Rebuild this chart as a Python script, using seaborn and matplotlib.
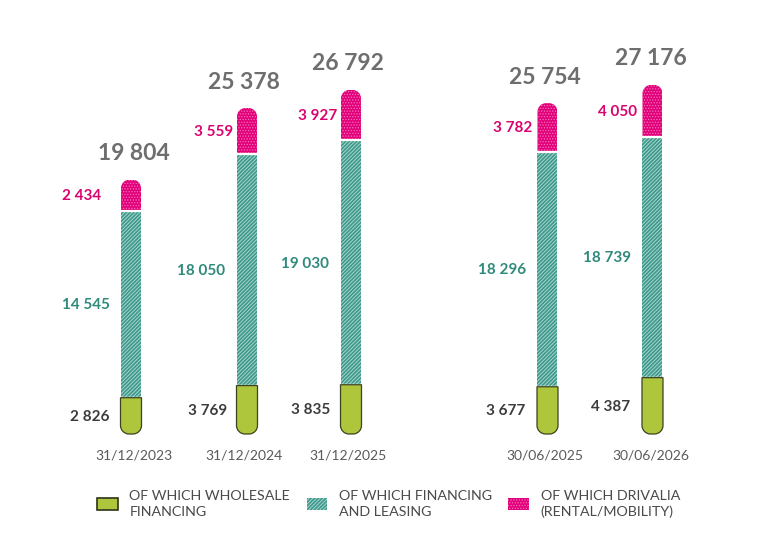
import numpy as np
import pandas as pd
import matplotlib
matplotlib.use("Agg")
import matplotlib.pyplot as plt
import seaborn as sns
from matplotlib.patches import Patch, PathPatch
from matplotlib.path import Path

# values
dates = ["31/12/2023", "31/12/2024", "31/12/2025", "30/06/2025", "30/06/2026"]
wholesale = [2826, 3769, 3835, 3677, 4387]
financing = [14545, 18050, 19030, 18296, 18739]
drivalia = [2434, 3559, 3927, 3782, 4050]
totals = [19804, 25378, 26792, 25754, 27176]

legend_labels = ["OF WHICH WHOLESALE\nFINANCING", "OF WHICH FINANCING\nAND LEASING", "OF WHICH DRIVALIA\n(RENTAL/MOBILITY)"]

# layout, in pixels of the 778x540 picture
bar_x = [131, 247, 351, 547.5, 652.5]
bar_w = 20
total_dx = [3, -3, -3, -3, -2]
wholesale_gap = [11, 10, 11, 12, 12]
financing_gap = [11, 12, 12, 11.5, 11.5]
drivalia_gap = [20, 4, 4, 5, 5]

GREEN = "#aec63b"
TEAL = "#3f9a8c"
TEAL_LINE = "#b4dcd5"
PINK = "#e2007a"
PINK_DOT = "#f571b8"
PINK_TEXT = "#d9046f"

sns.set_theme(style="white")
plt.rcParams["font.family"] = ["Lato", "DejaVu Sans"]
plt.rcParams["hatch.linewidth"] = 0.6

px_per_unit = 326 / 25378
base_px = 434

fig = plt.figure(figsize=(7.78, 5.4), dpi=100)
ax = fig.add_axes([0, (540 - base_px) / 540, 1, base_px / 540])

df = pd.DataFrame({"date": dates, "x": bar_x, "wholesale": wholesale, "financing": financing, "drivalia": drivalia})
df["c1"] = df["wholesale"]
df["c2"] = df["c1"] + df["financing"]
df["c3"] = df["c2"] + df["drivalia"]

rel_w = bar_w / np.diff(sorted(bar_x)).min()
sns.barplot(data=df, x="x", y="c3", native_scale=True, width=rel_w, ax=ax, color="white", saturation=1,
            hatch="......", edgecolor=PINK_DOT, facecolor=PINK, linewidth=0)
sns.barplot(data=df, x="x", y="c2", native_scale=True, width=rel_w, ax=ax, color="white", saturation=1,
            hatch="/////////", edgecolor=TEAL_LINE, facecolor=TEAL, linewidth=0)
ax.set_xlim(0, 778)
ax.set_ylim(0, base_px / px_per_unit)


def rounded(x0, x1, y0, y1, radius, top):
    # bar outline with the corners of one end rounded
    k = 0.45
    rx = radius
    ry = radius / px_per_unit
    if top:
        verts = [(x0, y0), (x0, y1 - ry), (x0, y1 - ry * k), (x0 + rx * k, y1), (x0 + rx, y1),
                 (x1 - rx, y1), (x1 - rx * k, y1), (x1, y1 - ry * k), (x1, y1 - ry), (x1, y0), (x0, y0)]
    else:
        verts = [(x0, y1), (x0, y0 + ry), (x0, y0 + ry * k), (x0 + rx * k, y0), (x0 + rx, y0),
                 (x1 - rx, y0), (x1 - rx * k, y0), (x1, y0 + ry * k), (x1, y0 + ry), (x1, y1), (x0, y1)]
    codes = [Path.MOVETO, Path.LINETO, Path.CURVE4, Path.CURVE4, Path.CURVE4,
             Path.LINETO, Path.CURVE4, Path.CURVE4, Path.CURVE4, Path.LINETO, Path.CLOSEPOLY]
    return Path(verts, codes)


# round the top of the stack
for bar, x, top in zip(ax.containers[0], bar_x, df["c3"]):
    bar.set_clip_path(rounded(x - bar_w / 2, x + bar_w / 2, 0, top, 8.5, True), ax.transData)

# the teal bars only start above the wholesale segment
for bar, c1, c2 in zip(ax.containers[1], df["c1"], df["c2"]):
    bar.set_y(c1)
    bar.set_height(c2 - c1)
for bar, c2, c3 in zip(ax.containers[0], df["c2"], df["c3"]):
    bar.set_y(c2)
    bar.set_height(c3 - c2)

# wholesale segment, outlined and rounded at the bottom
for x, top in zip(bar_x, df["c1"]):
    ax.add_patch(PathPatch(rounded(x - bar_w / 2 - 0.5, x + bar_w / 2 + 0.5, 0, top, 8.5, False),
                           facecolor=GREEN, edgecolor="#3d4220", linewidth=0.9, zorder=4, clip_on=False))

# white gaps between the segments
for x, c1, c2 in zip(bar_x, df["c1"], df["c2"]):
    ax.plot([x - bar_w / 2, x + bar_w / 2], [c2, c2], color="white", lw=1.6, zorder=3, solid_capstyle="butt")
    ax.plot([x - bar_w / 2, x + bar_w / 2], [c1 + 70, c1 + 70], color="white", lw=1.0, zorder=3, solid_capstyle="butt")


def fmt(v):
    return f"{v:,}".replace(",", " ")


for i, x in enumerate(bar_x):
    left = x - bar_w / 2
    c1, c2, c3 = df.loc[i, ["c1", "c2", "c3"]]
    ax.text(left - wholesale_gap[i], c1 / 2 - 1 / px_per_unit, fmt(wholesale[i]), ha="right", va="center", fontsize=11, fontweight="bold", color="#3c3c3c")
    ax.text(left - financing_gap[i], (c1 + c2) / 2 - 1 / px_per_unit, fmt(financing[i]), ha="right", va="center", fontsize=11, fontweight="bold", color="#2f8a7b")
    ax.text(left - drivalia_gap[i], (c2 + c3) / 2 - 1 / px_per_unit, fmt(drivalia[i]), ha="right", va="center", fontsize=11, fontweight="bold", color=PINK_TEXT)
    ax.text(x + total_dx[i], totals[i] + 26 / px_per_unit, fmt(totals[i]), ha="center", va="center", fontsize=16.5, fontweight="bold", color="#6e6e6e")

ax.set_xticks([x + d for x, d in zip(bar_x, total_dx)])
ax.set_xticklabels(dates, fontsize=10, color="#5a5a5a")
ax.tick_params(axis="x", length=0, pad=11)
ax.set_xlabel("")
ax.set_ylabel("")
ax.set_yticks([])
sns.despine(ax=ax, left=True, bottom=True)
ax.patch.set_alpha(0)

handles = [
    Patch(facecolor=GREEN, edgecolor="#2f3318", linewidth=1.2),
    Patch(facecolor=TEAL, edgecolor=TEAL_LINE, hatch="/////////", linewidth=0),
    Patch(facecolor=PINK, edgecolor=PINK_DOT, hatch="......", linewidth=0),
]
leg = fig.legend(handles, legend_labels, ncol=3, loc="center left", bbox_to_anchor=(93 / 778, 1 - 504 / 540), frameon=False,
                 fontsize=10.3, labelcolor="#4a4a4a", handlelength=1.45, handleheight=0.95, handletextpad=0.8,
                 columnspacing=1.15, labelspacing=0.2, borderpad=0.3, borderaxespad=0)
for t in leg.get_texts():
    t.set_linespacing(1.35)

fig.savefig("out.png", dpi=100, facecolor="white")
